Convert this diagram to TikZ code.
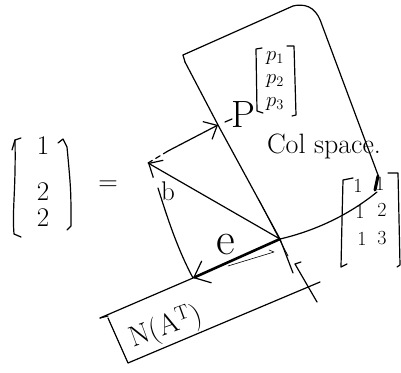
\documentclass[tikz,border=0pt]{standalone}
\usetikzlibrary{arrows.meta}
\begin{document}
\begin{tikzpicture}[x=1pt,y=-1pt,line width=1.2pt,line cap=round,line join=round,
  barb/.style={-{Straight Barb[length=11pt,width=20pt,line width=1.2pt]}},
  lbl/.style={inner sep=0pt,anchor=center},
  big/.style={font=\fontsize{28}{30}\selectfont},
  mid/.style={font=\fontsize{27}{29}\selectfont},
  sml/.style={font=\fontsize{20}{22}\selectfont},
  pent/.style={font=\fontsize{21}{23}\selectfont}]
\useasboundingbox (0,0) rectangle (401,372);
% key points
\coordinate (O) at (280,239);
\coordinate (B) at (148,163);
\coordinate (P) at (218,125);
\coordinate (E) at (193,278);
\coordinate (Dm) at (168,151);
% column space plane
\draw (183,55) -- (185,62);
\draw (185,62) -- (P) -- (O) -- (293,273);
\draw (183,55) -- (293,6) .. controls (310,2) and (318,12) .. (322,25) -- (378,175);
\draw[line width=3pt] (378,176) -- (375,190);
\draw (O) .. controls (310,232) and (345,218) .. (377,192);
\draw[line width=0.8pt] (259,200) -- (288,256);
\draw (301,262) -- (295,264) -- (317,302);
% N(A^T) plane
\draw (100,318) -- (108,316);
\draw (100,318) -- (E);
\draw (108,318) -- (128,363) -- (320,282);
\node[lbl,font=\fontsize{29}{31}\selectfont,rotate=20] (nat) at (166,327) {N(A\textsuperscript{T})};
% vectors
\draw[barb] (O) -- (B);
\draw[dash pattern=on 5pt off 4pt] (B) -- (Dm);
\draw[barb] (Dm) -- (P);
\draw (158,188) .. controls (168,220) and (178,250) .. (E);
\draw[line width=2.6pt,-{Straight Barb[length=14pt,width=24pt,line width=1.2pt]}] (O) -- (E);
\draw[line width=0.6pt] (269,250) -- (274,252) -- (228,266);
% labels
\node[lbl,mid] (bl) at (168,191) {b};
\node[lbl,font=\fontsize{46}{48}\selectfont] (el) at (226,245) {e};
\draw (225,122) -- (232,119);
\node[lbl,font=\fontsize{38}{40}\selectfont] (pl) at (243,115) {P};
% p matrix
\draw (262,48) -- (256,49) -- (257,111) -- (263,113);
\draw (287,46) -- (294,46) -- (296,115) -- (292,116);
\node[lbl,pent] (p1) at (275,58) {$p_1$};
\node[lbl,pent] (p2) at (275,81) {$p_2$};
\node[lbl,pent] (p3) at (275,104) {$p_3$};
\node[lbl,big] (col) at (324,146) {Col space.};
% b vector
\draw (12,150) -- (15,140) -- (21,138);
\draw (15,140) .. controls (16,190) and (12,210) .. (14,234) -- (21,237);
\draw (58,143) -- (63,139) -- (67,147) .. controls (71,190) .. (71,226) -- (67,230);
\node[lbl,mid] (b1) at (43,146) {1};
\node[lbl,mid] (b2) at (43,192) {2};
\node[lbl,mid] (b3) at (43,218) {2};
\node[lbl,mid] (eq) at (108,186) {=};
% A matrix
\draw (353,178) -- (343,180) .. controls (342,220) .. (341,267) -- (347,264);
\draw (388,173) -- (398,173) -- (400,265) -- (397,267);
\node[lbl,sml] (a11) at (358,186) {1};
\node[lbl,sml] (a12) at (380,184) {1};
\node[lbl,sml] (a21) at (360,212) {1};
\node[lbl,sml] (a22) at (382,210) {2};
\node[lbl,sml] (a31) at (362,239) {1};
\node[lbl,sml] (a32) at (382,238) {3};
\end{tikzpicture}
\end{document}
